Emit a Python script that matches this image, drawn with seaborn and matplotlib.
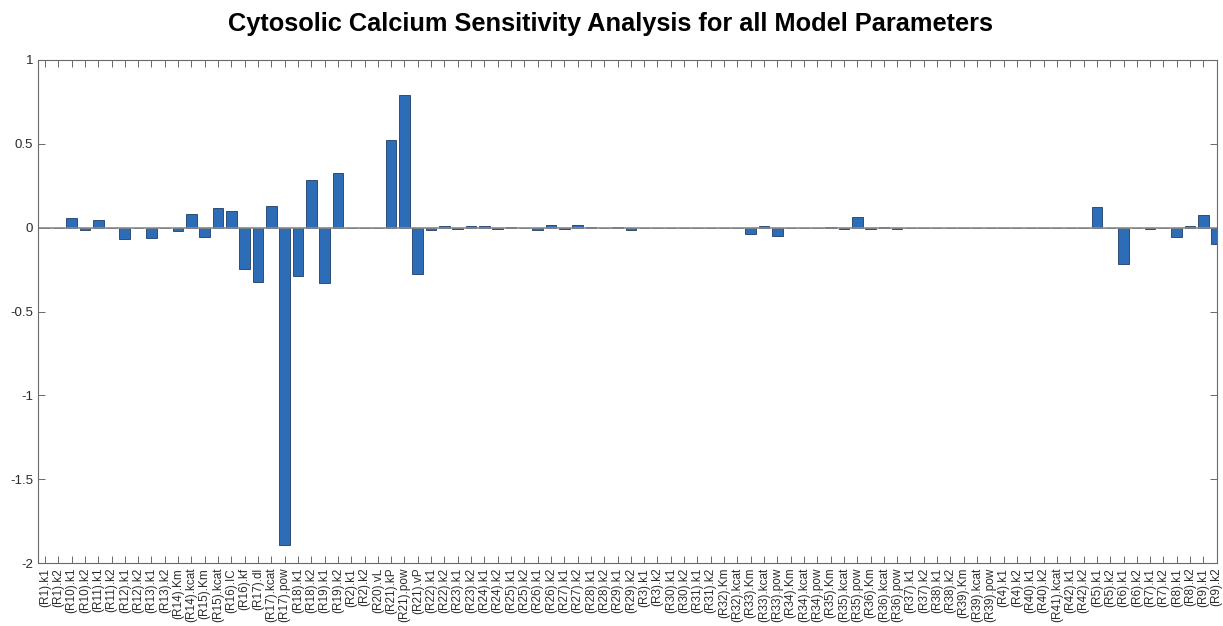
import matplotlib
matplotlib.use("Agg")
import matplotlib.pyplot as plt
import seaborn as sns
import pandas as pd
from matplotlib.ticker import FixedLocator, FuncFormatter

# Parameter names (reaction.parameter)
parameters = [
    "(R1).k1", "(R1).k2", "(R10).k1", "(R10).k2", "(R11).k1", "(R11).k2",
    "(R12).k1", "(R12).k2", "(R13).k1", "(R13).k2", "(R14).Km", "(R14).kcat",
    "(R15).Km", "(R15).kcat", "(R16).IC", "(R16).kf", "(R17).dl", "(R17).kcat",
    "(R17).pow", "(R18).k1", "(R18).k2", "(R19).k1", "(R19).k2", "(R2).k1",
    "(R2).k2", "(R20).vL", "(R21).kP", "(R21).pow", "(R21).vP", "(R22).k1",
    "(R22).k2", "(R23).k1", "(R23).k2", "(R24).k1", "(R24).k2", "(R25).k1",
    "(R25).k2", "(R26).k1", "(R26).k2", "(R27).k1", "(R27).k2", "(R28).k1",
    "(R28).k2", "(R29).k1", "(R29).k2", "(R3).k1", "(R3).k2", "(R30).k1",
    "(R30).k2", "(R31).k1", "(R31).k2", "(R32).Km", "(R32).kcat", "(R33).Km",
    "(R33).kcat", "(R33).pow", "(R34).Km", "(R34).kcat", "(R34).pow", "(R35).Km",
    "(R35).kcat", "(R35).pow", "(R36).Km", "(R36).kcat", "(R36).pow", "(R37).k1",
    "(R37).k2", "(R38).k1", "(R38).k2", "(R39).Km", "(R39).kcat", "(R39).pow",
    "(R4).k1", "(R4).k2", "(R40).k1", "(R40).k2", "(R41).kcat", "(R42).k1",
    "(R42).k2", "(R5).k1", "(R5).k2", "(R6).k1", "(R6).k2", "(R7).k1",
    "(R7).k2", "(R8).k1", "(R8).k2", "(R9).k1", "(R9).k2",
]

# Normalized sensitivity of cytosolic calcium to each parameter
sensitivity = [
    0.0, 0.0, 0.058, -0.012, 0.048, -0.003,
    -0.068, 0.0, -0.062, 0.0, -0.018, 0.080,
    -0.054, 0.117, 0.101, -0.246, -0.324, 0.131,
    -1.890, -0.290, 0.286, -0.332, 0.324, 0.0,
    0.0, 0.0, 0.525, 0.791, -0.274, -0.013,
    0.011, -0.008, 0.008, 0.008, -0.008, 0.004,
    -0.004, -0.014, 0.014, -0.010, 0.014, 0.004,
    -0.004, 0.003, -0.012, -0.004, 0.0, 0.0,
    0.0, 0.0, 0.0, 0.0, 0.0, -0.038,
    0.008, -0.050, 0.0, 0.0, 0.0, 0.005,
    -0.008, 0.066, -0.008, 0.006, -0.006, 0.0,
    0.0, 0.0, 0.0, 0.0, 0.0, 0.0,
    -0.003, 0.0, 0.0, 0.0, 0.0, 0.0,
    0.0, 0.122, 0.0, -0.218, 0.0, -0.008,
    0.0, -0.054, 0.008, 0.076, -0.100,
]

y_ticks = [-2, -1.5, -1, -0.5, 0, 0.5, 1]

df = pd.DataFrame({"parameter": parameters, "sensitivity": sensitivity})

sns.set_style("white")
plt.rcParams["font.family"] = ["Liberation Sans", "DejaVu Sans"]

fig = plt.figure(figsize=(12.23, 6.26), dpi=100)
ax = fig.add_axes([38 / 1223, 1 - 563 / 626, (1217 - 38) / 1223, (563 - 60) / 626])

sns.barplot(data=df, x="parameter", y="sensitivity", color="#2d6db8",
            saturation=1, width=0.8, edgecolor="#1d3d66", linewidth=0.6, ax=ax)

# bar baseline
ax.axhline(0, color="#8a8a8a", lw=1.2, zorder=1)

axis_col = "#6a6a6a"
ax.set_xlim(-0.52, 88.02)
ax.set_ylim(-2, 1)
ax.yaxis.set_major_locator(FixedLocator(y_ticks))
ax.yaxis.set_major_formatter(FuncFormatter(lambda v, p: f"{v:g}"))
ax.set_xlabel("")
ax.set_ylabel("")
ax.tick_params(axis="x", rotation=90, labelsize=8.5, direction="in", length=5,
               top=True, bottom=True, color=axis_col, labelcolor="#2a2a2a", width=0.7)
ax.tick_params(axis="y", labelsize=9.5, direction="in", length=5,
               left=True, right=True, color=axis_col, labelcolor="#2a2a2a", width=0.7)
for s in ax.spines.values():
    s.set_visible(True)
    s.set_color(axis_col)
    s.set_linewidth(0.8)

fig.suptitle("Cytosolic Calcium Sensitivity Analysis for all Model Parameters",
             fontsize=18.3, fontweight="bold", color="black", y=0.981, x=0.499)

fig.savefig("out.png", dpi=100, facecolor="white")
